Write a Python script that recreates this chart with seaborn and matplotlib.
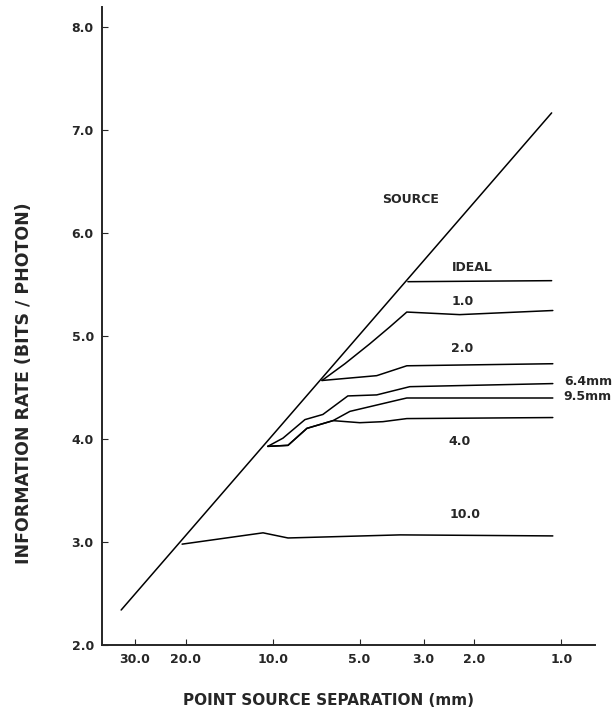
import numpy as np
import pandas as pd
import seaborn as sns
import matplotlib
matplotlib.use("Agg")
import matplotlib.pyplot as plt

# curves: separation (mm), rate (bits/photon)
source_x = [33.5, 1.08]
source_y = [2.34, 7.17]

ideal_x = [3.40, 1.08]
ideal_y = [5.53, 5.54]

f1_x = [6.75, 5.62, 4.61, 3.93, 3.43, 2.25, 1.07]
f1_y = [4.57, 4.733, 4.926, 5.09, 5.235, 5.21, 5.25]

f2_x = [6.75, 4.36, 3.43, 1.07]
f2_y = [4.57, 4.617, 4.713, 4.733]

f64_x = [10.4, 9.21, 7.73, 6.70, 5.49, 4.36, 3.35, 1.07]
f64_y = [3.93, 4.01, 4.19, 4.24, 4.42, 4.43, 4.51, 4.54]

f95_x = [10.4, 8.85, 7.61, 6.18, 5.40, 3.62, 3.43, 1.07]
f95_y = [3.93, 3.94, 4.105, 4.18, 4.27, 4.385, 4.40, 4.40]

f4_x = [10.4, 8.85, 7.61, 6.18, 4.99, 4.15, 3.43, 1.07]
f4_y = [3.93, 3.94, 4.105, 4.18, 4.16, 4.17, 4.20, 4.21]

f10_x = [20.6, 10.8, 8.85, 3.62, 1.07]
f10_y = [2.98, 3.09, 3.04, 3.07, 3.06]

x_ticks = [30, 20, 10, 5, 3, 2, 1]
x_ticklabels = ["30.0", "20.0", "10.0", "5.0", "3.0", "2.0", "1.0"]
y_ticks = [2, 3, 4, 5, 6, 7, 8]
y_ticklabels = ["2.0", "3.0", "4.0", "5.0", "6.0", "7.0", "8.0"]

curves = {
    "SOURCE": (source_x, source_y),
    "IDEAL": (ideal_x, ideal_y),
    "1.0": (f1_x, f1_y),
    "2.0": (f2_x, f2_y),
    "6.4mm": (f64_x, f64_y),
    "9.5mm": (f95_x, f95_y),
    "4.0": (f4_x, f4_y),
    "10.0": (f10_x, f10_y),
}

rows = []
for name, (xs, ys) in curves.items():
    for xv, yv in zip(xs, ys):
        rows.append({"curve": name, "sep": xv, "rate": yv})
df = pd.DataFrame(rows)

sns.set_style("ticks")
plt.rcParams["font.family"] = ["DejaVu Sans"]

fig = plt.figure(figsize=(6.15, 7.17), dpi=100)
ax = fig.add_axes([0.166, 0.1004, 0.801, 0.89])

sns.lineplot(data=df, x="sep", y="rate", units="curve", estimator=None,
             sort=False, color="black", linewidth=1.1, ax=ax)

ax.set_xscale("log")
ax.set_xlim(39.0, 0.766)
ax.set_ylim(2.0, 8.2)
ax.set_xticks(x_ticks)
ax.set_xticklabels(x_ticklabels)
ax.minorticks_off()
ax.set_yticks(y_ticks)
ax.set_yticklabels(y_ticklabels)
ax.tick_params(direction="in", length=4, width=0.8, labelsize=9, pad=6)
for lab in ax.get_xticklabels() + ax.get_yticklabels():
    lab.set_fontweight("bold")

sns.despine(ax=ax)
for sp in ["left", "bottom"]:
    ax.spines[sp].set_linewidth(1.4)

ax.set_xlabel("POINT SOURCE SEPARATION (mm)", fontsize=11, fontweight="bold")
ax.set_ylabel("INFORMATION RATE (BITS / PHOTON)", fontsize=12.5,
              fontweight="bold")
ax.xaxis.set_label_coords(0.46, -0.075)
ax.yaxis.set_label_coords(-0.14, 0.41)

lab_kw = dict(fontsize=9, fontweight="bold", va="center")
ax.text(3.32, 6.325, "SOURCE", ha="center", **lab_kw)
ax.text(2.04, 5.67, "IDEAL", ha="center", **lab_kw)
ax.text(2.19, 5.34, "1.0", ha="center", **lab_kw)
ax.text(2.20, 4.88, "2.0", ha="center", **lab_kw)
ax.text(0.98, 4.56, "6.4mm", ha="left", **lab_kw)
ax.text(0.98, 4.41, "9.5mm", ha="left", **lab_kw)
ax.text(2.25, 3.98, "4.0", ha="center", **lab_kw)
ax.text(2.16, 3.27, "10.0", ha="center", **lab_kw)

fig.savefig("out.png", dpi=100)
